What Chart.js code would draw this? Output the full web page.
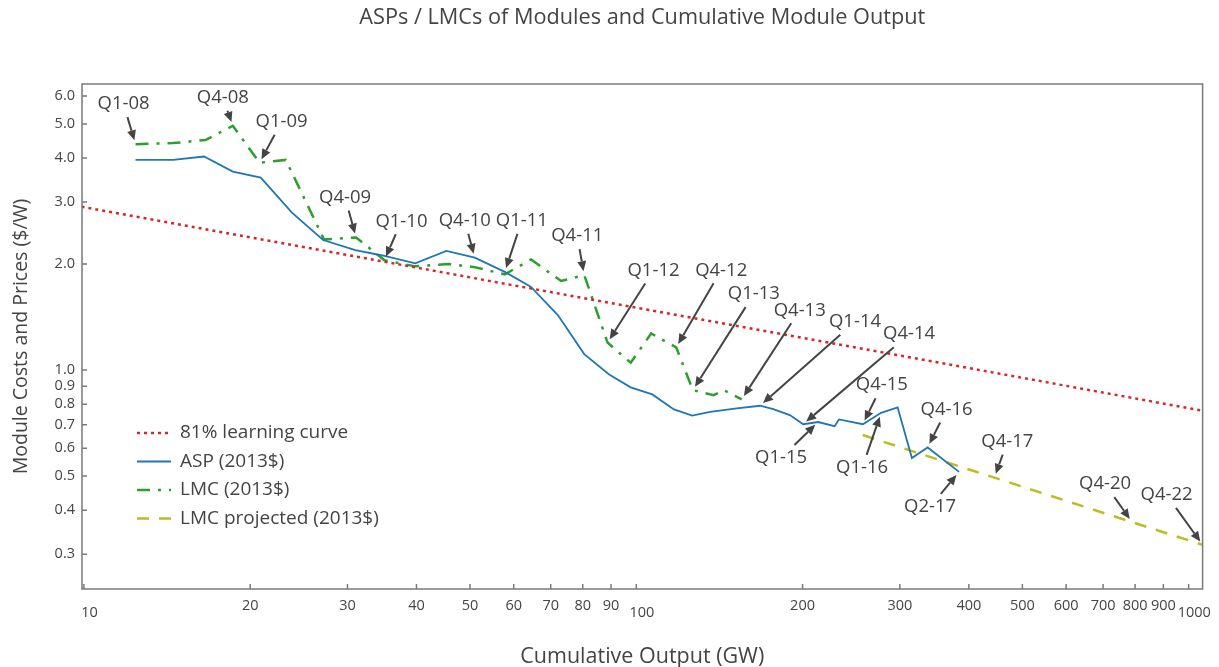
<!DOCTYPE html>
<html>
<head>
    <meta charset="utf-8">
    <title>ASPs / LMCs of Modules and Cumulative Module Output</title>
    <script src="https://cdn.jsdelivr.net/npm/chart.js@4.4.1/dist/chart.umd.min.js"></script>
    <style>
        html, body { margin: 0; padding: 0; background: #fff; }
        canvas { display: block; }
    </style>
</head>
<body>
<canvas id="chart" width="1219" height="667"></canvas>
<script>
    // --- data ---
    const chartTitle = 'ASPs / LMCs of Modules and Cumulative Module Output'
    const xTitle = 'Cumulative Output (GW)'
    const yTitle = 'Module Costs and Prices ($/W)'

    const xTicks = [10, 20, 30, 40, 50, 60, 70, 80, 90, 100, 200, 300, 400, 500, 600, 700, 800, 900, 1000]
    const xMajor = [10, 100, 1000]
    const yTicks = [0.3, 0.4, 0.5, 0.6, 0.7, 0.8, 0.9, 1, 2, 3, 4, 5, 6]

    const seriesNames = ['81% learning curve', 'ASP (2013$)', 'LMC (2013$)', 'LMC projected (2013$)']

    const curveX = [9.9, 1060]
    const curveY = [2.91, 0.767]

    const aspX = [12.4, 14.5, 16.5, 18.6, 20.9, 23.8, 27.1, 31.0, 34.7, 39.8, 45.3, 51.0, 57.8, 64.4, 72.1, 80.5,
        89.3, 97.7, 106.9, 117, 126.2, 136.1, 152, 167.5, 177, 189.7, 200.5, 213.4, 228.6, 232.8, 257.2, 277.5,
        297.3, 315.5, 336.9, 384]
    const aspY = [3.95, 3.95, 4.04, 3.66, 3.52, 2.80, 2.34, 2.19, 2.115, 2.01, 2.18, 2.085, 1.90, 1.725, 1.433, 1.11,
        0.972, 0.893, 0.853, 0.773, 0.743, 0.761, 0.778, 0.792, 0.775, 0.745, 0.702, 0.712, 0.693, 0.724, 0.702, 0.756,
        0.783, 0.563, 0.603, 0.514]

    const lmcX = [12.4, 14.5, 16.6, 18.6, 20.8, 23.2, 27.2, 31.1, 35.0, 39.8, 45.7, 51.0, 57.8, 64.5, 73.1, 80.5,
        88.7, 97.7, 106.4, 118.1, 126.6, 138, 144.1, 155.2]
    const lmcY = [4.38, 4.41, 4.50, 4.94, 3.88, 3.95, 2.35, 2.38, 2.05, 1.97, 2.00, 1.96, 1.87, 2.06, 1.79, 1.86,
        1.197, 1.049, 1.27, 1.16, 0.877, 0.849, 0.877, 0.826]

    const projX = [257, 384, 445, 790, 1060]
    const projY = [0.654, 0.533, 0.495, 0.370, 0.319]

    // quarter labels, and [dataset index, point index] each one points at
    const noteLabels = ['Q1-08', 'Q4-08', 'Q1-09', 'Q4-09', 'Q1-10', 'Q4-10', 'Q1-11', 'Q4-11', 'Q1-12', 'Q4-12',
        'Q1-13', 'Q4-13', 'Q1-14', 'Q4-14', 'Q1-15', 'Q4-15', 'Q1-16', 'Q4-16', 'Q2-17', 'Q4-17', 'Q4-20', 'Q4-22']
    const noteRefs = [[2, 0], [2, 3], [2, 4], [2, 7], [2, 8], [1, 11], [1, 12], [2, 15], [2, 16], [2, 19],
        [2, 20], [2, 23], [1, 23], [1, 26], [1, 27], [1, 30], [1, 31], [1, 34], [1, 35], [3, 2], [3, 3], [3, 4]]
    // label centre offset from its point, px
    const noteOffsets = [[-12, -40], [-10, -28], [22, -41], [-11, -40], [17, -39], [-10, -37], [17, -51], [-7, -39],
        [46, -72], [45, -77], [61, -96], [58, -89], [95, -84], [106, -90], [-37, 36], [19, -39], [-19, 55],
        [19, -38], [-29, 35], [13, -36], [-27, -38], [-36, -50]]

    const FONT = '"Open Sans", "DejaVu Sans", sans-serif'
    const TEXT = '#444'
    const FRAME = '#7a7a7a'

    const toPoints = (xs, ys) => xs.map((x, i) => ({x: x, y: ys[i]}))

    // frame, inside tick marks, title
    const framePlugin = {
        id: 'frame',
        afterDraw(chart) {
            const {ctx, chartArea: a, scales} = chart
            ctx.save()
            ctx.strokeStyle = FRAME
            ctx.lineWidth = 1.5
            ctx.strokeRect(a.left, a.top, a.right - a.left, a.bottom - a.top)
            ctx.beginPath()
            scales.x.ticks.forEach(t => {
                const px = scales.x.getPixelForValue(t.value)
                ctx.moveTo(px, a.bottom)
                ctx.lineTo(px, a.bottom - 5)
            })
            scales.y.ticks.forEach(t => {
                const py = scales.y.getPixelForValue(t.value)
                ctx.moveTo(a.left, py)
                ctx.lineTo(a.left + 5, py)
            })
            ctx.stroke()

            ctx.fillStyle = TEXT
            ctx.font = '21.7px ' + FONT
            ctx.textAlign = 'center'
            ctx.textBaseline = 'middle'
            ctx.fillText(chartTitle, (a.left + a.right) / 2, 18)
            ctx.restore()
        }
    }

    // legend inside the plot area
    const legendPlugin = {
        id: 'innerLegend',
        afterDraw(chart) {
            const ctx = chart.ctx
            ctx.save()
            ctx.font = '19px ' + FONT
            ctx.textBaseline = 'middle'
            chart.data.datasets.forEach((ds, i) => {
                const y = 433 + i * 28.5
                ctx.strokeStyle = ds.borderColor
                ctx.lineWidth = ds.borderWidth
                ctx.setLineDash(ds.borderDash || [])
                ctx.beginPath()
                ctx.moveTo(137, y)
                ctx.lineTo(171, y)
                ctx.stroke()
                ctx.setLineDash([])
                ctx.fillStyle = TEXT
                ctx.fillText(ds.label, 180, y)
            })
            ctx.restore()
        }
    }

    // arrows with quarter labels
    const notePlugin = {
        id: 'notes',
        afterDatasetsDraw(chart) {
            const {ctx, scales} = chart
            ctx.save()
            ctx.font = '18.5px ' + FONT
            ctx.textAlign = 'center'
            ctx.textBaseline = 'middle'
            ctx.strokeStyle = '#444'
            ctx.fillStyle = '#444'
            ctx.lineWidth = 2
            noteLabels.forEach((label, i) => {
                const pt = chart.data.datasets[noteRefs[i][0]].data[noteRefs[i][1]]
                const px = scales.x.getPixelForValue(pt.x)
                const py = scales.y.getPixelForValue(pt.y)
                const cx = px + noteOffsets[i][0]
                const cy = py + noteOffsets[i][1]
                const hw = ctx.measureText(label).width / 2 + 3
                const hh = 13
                const vx = px - cx, vy = py - cy
                const len = Math.hypot(vx, vy)
                const ux = vx / len, uy = vy / len
                const t = Math.min(ux ? Math.abs(hw / ux) : Infinity, uy ? Math.abs(hh / uy) : Infinity)
                const sx = cx + ux * t, sy = cy + uy * t
                const ex = px - ux * 4, ey = py - uy * 4
                const head = 10, half = 4.5
                const bx = ex - ux * head, by = ey - uy * head
                ctx.beginPath()
                ctx.moveTo(sx, sy)
                ctx.lineTo(bx, by)
                ctx.stroke()
                ctx.beginPath()
                ctx.moveTo(ex, ey)
                ctx.lineTo(bx - uy * half, by + ux * half)
                ctx.lineTo(bx + uy * half, by - ux * half)
                ctx.closePath()
                ctx.fill()
                ctx.fillText(label, cx, cy)
            })
            ctx.restore()
        }
    }

    const ctx = document.getElementById('chart').getContext('2d')
    window.chart = new Chart(ctx, {
        type: 'line',
        data: {
            datasets: [{
                label: seriesNames[0],
                data: toPoints(curveX, curveY),
                borderColor: '#d62728',
                borderWidth: 2.5,
                borderDash: [3, 4]
            }, {
                label: seriesNames[1],
                data: toPoints(aspX, aspY),
                borderColor: '#1f77b4',
                borderWidth: 1.8
            }, {
                label: seriesNames[2],
                data: toPoints(lmcX, lmcY),
                borderColor: '#2ca02c',
                borderWidth: 2.5,
                borderDash: [13, 8, 3, 8]
            }, {
                label: seriesNames[3],
                data: toPoints(projX, projY),
                borderColor: '#bcbd22',
                borderWidth: 2.5,
                borderDash: [12, 10]
            }]
        },
        options: {
            responsive: false,
            animation: false,
            layout: {padding: {top: 84, right: 11, left: 0, bottom: 0}},
            elements: {point: {radius: 0}, line: {tension: 0}},
            plugins: {
                legend: {display: false},
                tooltip: {enabled: false}
            },
            scales: {
                x: {
                    type: 'logarithmic',
                    min: 9.92,
                    max: 1060,
                    grid: {display: false, drawTicks: false},
                    border: {display: false},
                    afterFit: s => { s.height = 78 },
                    afterBuildTicks: s => { s.ticks = xTicks.map(v => ({value: v})) },
                    ticks: {
                        autoSkip: false,
                        maxRotation: 0,
                        padding: 8,
                        color: TEXT,
                        font: c => ({
                            family: FONT, size: 14.5,
                            lineHeight: (c.tick && xMajor.includes(c.tick.value)) ? 0.75 : 1.2
                        }),
                        callback: v => xMajor.includes(v) ? ['', '   ' + v] : String(v)
                    },
                    title: {
                        display: true,
                        text: xTitle,
                        color: TEXT,
                        font: {family: FONT, size: 21.5},
                        padding: {top: 0, bottom: -3}
                    }
                },
                y: {
                    type: 'logarithmic',
                    min: 0.239,
                    max: 6.49,
                    grid: {display: false, drawTicks: false},
                    border: {display: false},
                    afterFit: s => { s.width = 82 },
                    afterBuildTicks: s => { s.ticks = yTicks.map(v => ({value: v})) },
                    ticks: {
                        autoSkip: false,
                        padding: 7,
                        color: TEXT,
                        font: {family: FONT, size: 14.5},
                        callback: v => v.toFixed(1)
                    },
                    title: {
                        display: true,
                        text: yTitle,
                        color: TEXT,
                        font: {family: FONT, size: 19.5},
                        padding: {top: 10, bottom: 0}
                    }
                }
            }
        },
        plugins: [framePlugin, legendPlugin, notePlugin]
    })
</script>
</body>
</html>
